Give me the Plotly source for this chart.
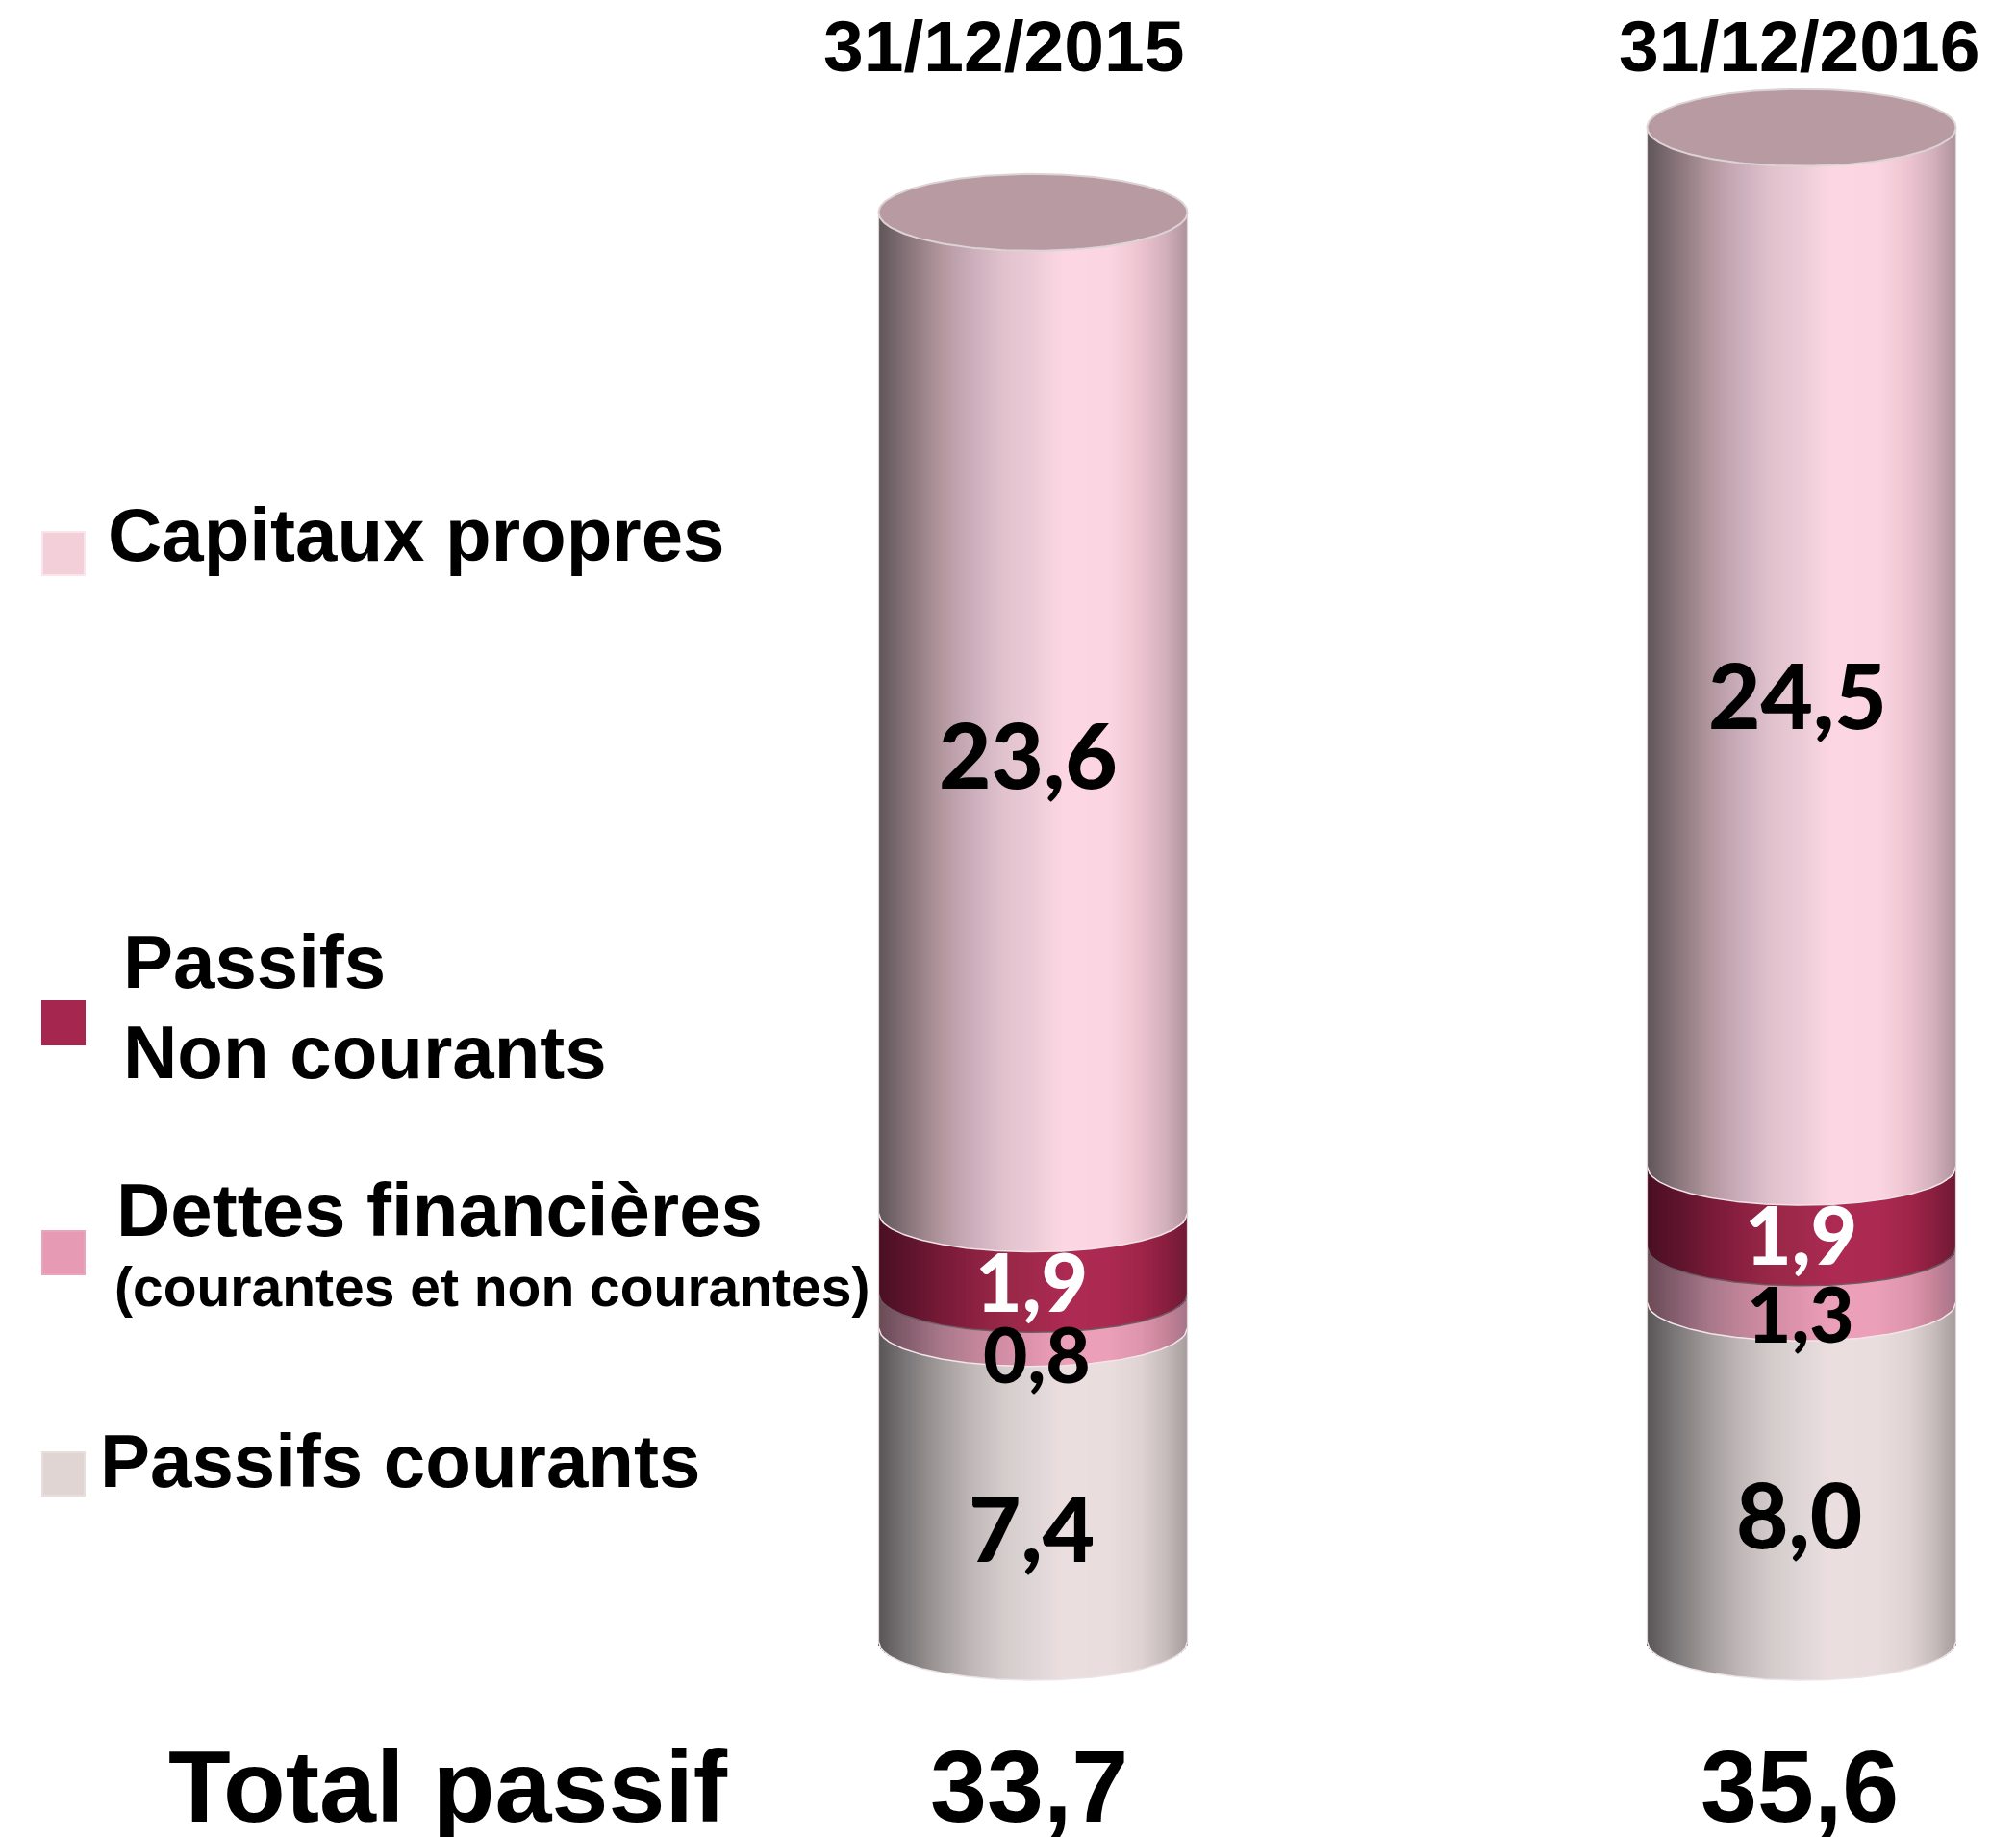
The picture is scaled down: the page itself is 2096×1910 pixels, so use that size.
import numpy as np
import plotly.graph_objects as go

# ---------- data ----------
dates = ["31/12/2015", "31/12/2016"]
passifs_courants = [7.4, 8.0]
dettes_financieres = [0.8, 1.3]
passifs_non_courants = [1.9, 1.9]
capitaux_propres = [23.6, 24.5]
totals = [33.7, 35.6]
value_labels = {
    "passifs_courants": ["7,4", "8,0"],
    "dettes": ["0,8", "1,3"],
    "non_courants": ["1,9", "1,9"],
    "capitaux": ["23,6", "24,5"],
}
total_labels = ["33,7", "35,6"]

# ---------- page / scale ----------
W, H = 2096, 1910
PX_PER_X = 799.0      # pixels between the two cylinders
X0_PX = 1074.0        # pixel of cylinder 0
PX_PER_Y = 44.1
Y0_PX = 1707.0        # pixel of the value 0
HALF = 160.5 / PX_PER_X
N_SLICES = 160
ARC_PX = 40           # depth of the front arc of each ring, pixels

x_range = [-X0_PX / PX_PER_X, (W - X0_PX) / PX_PER_X]
y_range = [(Y0_PX - H) / PX_PER_Y, Y0_PX / PX_PER_Y]

# shading across a cylinder: position, colour
STOPS = [0, .10, .20, .30, .40, .50, .60, .75, .85, .93, 1]
SHADES = {
    "capitaux": ["#5f5558", "#8a767c", "#b3979f", "#cbaebb", "#e0c2cd", "#eccbd7", "#fdd8e4", "#fbd6e2", "#ecc4d1", "#d3b0bc", "#b0939e"],
    "non_courants": ["#4a0f22", "#5e142d", "#771a38", "#8a2040", "#992848", "#a0294c", "#ae2a54", "#ac2a52", "#a02549", "#8a1f40", "#6f1a35"],
    "dettes": ["#6a4a55", "#876070", "#a8788a", "#c08498", "#d28ea5", "#e094ad", "#eca0b9", "#eb9fb8", "#de95ae", "#c78499", "#a6748a"],
    "courants": ["#595455", "#7f7a7b", "#a39c9c", "#c0b8b8", "#d4cbcb", "#dfd6d7", "#ecdfe0", "#eadddd", "#dfd3d3", "#c8bdbd", "#a89d9d"],
}


def rgb(h):
    return [int(h[i:i + 2], 16) for i in (1, 3, 5)]


def shade(name, t):
    arr = np.array([rgb(c) for c in SHADES[name]], dtype=float)
    return [f"rgb({int(np.interp(v, STOPS, arr[:, 0]))},{int(np.interp(v, STOPS, arr[:, 1]))},{int(np.interp(v, STOPS, arr[:, 2]))})" for v in t]


def front(u):
    """drop of the cylinder's front edge, in value units, at relative position u in [-1, 1]"""
    return ARC_PX / PX_PER_Y * np.sqrt(np.clip(1 - u ** 2, 0, 1))


fig = go.Figure()
u = (np.arange(N_SLICES) + 0.5) / N_SLICES * 2 - 1
t = (u + 1) / 2
series = [("courants", "Passifs courants", passifs_courants),
          ("dettes", "Dettes financières", dettes_financieres),
          ("non_courants", "Passifs Non courants", passifs_non_courants),
          ("capitaux", "Capitaux propres", capitaux_propres)]

for c in range(2):
    xs = c + u * HALF
    boundaries = [0.0]
    running = 0.0
    for key, name, vals in series:
        low = running
        running += vals[c]
        base = low - front(u)
        top = running - front(u)
        fig.add_trace(go.Bar(
            x=xs, y=top - base, base=base, width=2 * HALF / N_SLICES * 1.1,
            marker=dict(color=shade(key, t), line=dict(width=0)),
            name=name, showlegend=False, hoverinfo="skip"))
        boundaries.append(running)
    # top cap
    th = np.linspace(0, 2 * np.pi, 181)
    fig.add_trace(go.Scatter(
        x=c + np.cos(th) * HALF,
        y=running + np.sin(th) * ARC_PX / PX_PER_Y,
        mode="lines", fill="toself", fillcolor="#b89aa3",
        line=dict(color="#dcd3d5", width=2), showlegend=False, hoverinfo="skip"))
    # joint and edge lines
    uu = np.linspace(-1, 1, 121)
    line_cols = ["#ece3e5", "#f2e6ea", "#6e5a62", "#f0e4e8"]
    for j in range(4):
        fig.add_trace(go.Scatter(
            x=c + uu * HALF, y=boundaries[j] - front(uu),
            mode="lines", line=dict(color=line_cols[j], width=1.5),
            showlegend=False, hoverinfo="skip"))
    for side in (-1, 1):
        fig.add_trace(go.Scatter(
            x=[c + side * HALF] * 2, y=[0, running],
            mode="lines", line=dict(color="#dcd6d8", width=1.2),
            showlegend=False, hoverinfo="skip"))

# ---------- texts ----------
SANS = "Liberation Sans"
GEO = "Lato"


def text(s, px, py, size, color="black", anchor="center", family=SANS, weight="bold"):
    fig.add_annotation(x=px / W, y=1 - py / H, xref="paper", yref="paper", text=s,
                       showarrow=False, xanchor=anchor, yanchor="middle",
                       font=dict(family=family, size=size, color=color, weight=weight),
                       borderpad=0, borderwidth=0)


text(dates[0], 1043, 48, 75)
text(dates[1], 1870, 48, 75)

text(value_labels["capitaux"][0], 1069, 783, 94, family=GEO, weight=900)
text(value_labels["capitaux"][1], 1869, 721, 94, family=GEO, weight=900)
text(value_labels["non_courants"][0], 1072, 1331, 84, "white", family=GEO, weight=900)
text(value_labels["non_courants"][1], 1872, 1282, 84, "white", family=GEO, weight=900)
text(value_labels["dettes"][0], 1078, 1407, 80, family=GEO, weight=900)
text(value_labels["dettes"][1], 1872, 1365, 80, family=GEO, weight=900)
text(value_labels["passifs_courants"][0], 1072, 1587, 94, family=GEO, weight=900)
text(value_labels["passifs_courants"][1], 1870, 1573, 94, family=GEO, weight=900)

text("Total passif", 175, 1857, 106, anchor="left")
text(total_labels[0], 1070, 1857, 106)
text(total_labels[1], 1871, 1857, 106)

text("Capitaux propres", 112, 556, 78, anchor="left")
text("Passifs", 128, 1000, 78, anchor="left")
text("Non courants", 128, 1094, 78, anchor="left")
text("Dettes financières", 121, 1258, 78, anchor="left")
text("(courantes et non courantes)", 119, 1338, 57, anchor="left")
text("Passifs courants", 104, 1519, 78, anchor="left")

swatches = [(553, "#f3cfd9", "#fbe4ea"), (1041, "#a5264f", "#a5264f"),
            (1280, "#e79ab3", "#eaa5bb"), (1510, "#e0d5d3", "#e8dfdd")]
for y0, col, edge in swatches:
    fig.add_shape(type="rect", xref="paper", yref="paper",
                  x0=44 / W, x1=88 / W, y0=1 - y0 / H, y1=1 - (y0 + 45) / H,
                  fillcolor=col, line=dict(color=edge, width=2), layer="above")

fig.update_layout(
    width=W, height=H, autosize=False, margin=dict(l=0, r=0, t=0, b=0),
    barmode="overlay", bargap=0, showlegend=False,
    paper_bgcolor="white", plot_bgcolor="white",
    xaxis=dict(range=x_range, visible=False, fixedrange=True),
    yaxis=dict(range=y_range, visible=False, fixedrange=True),
)
fig.write_html("out.html", post_script="document.body.style.margin='0';document.documentElement.style.overflow='hidden';",
               config={"displayModeBar": False})
